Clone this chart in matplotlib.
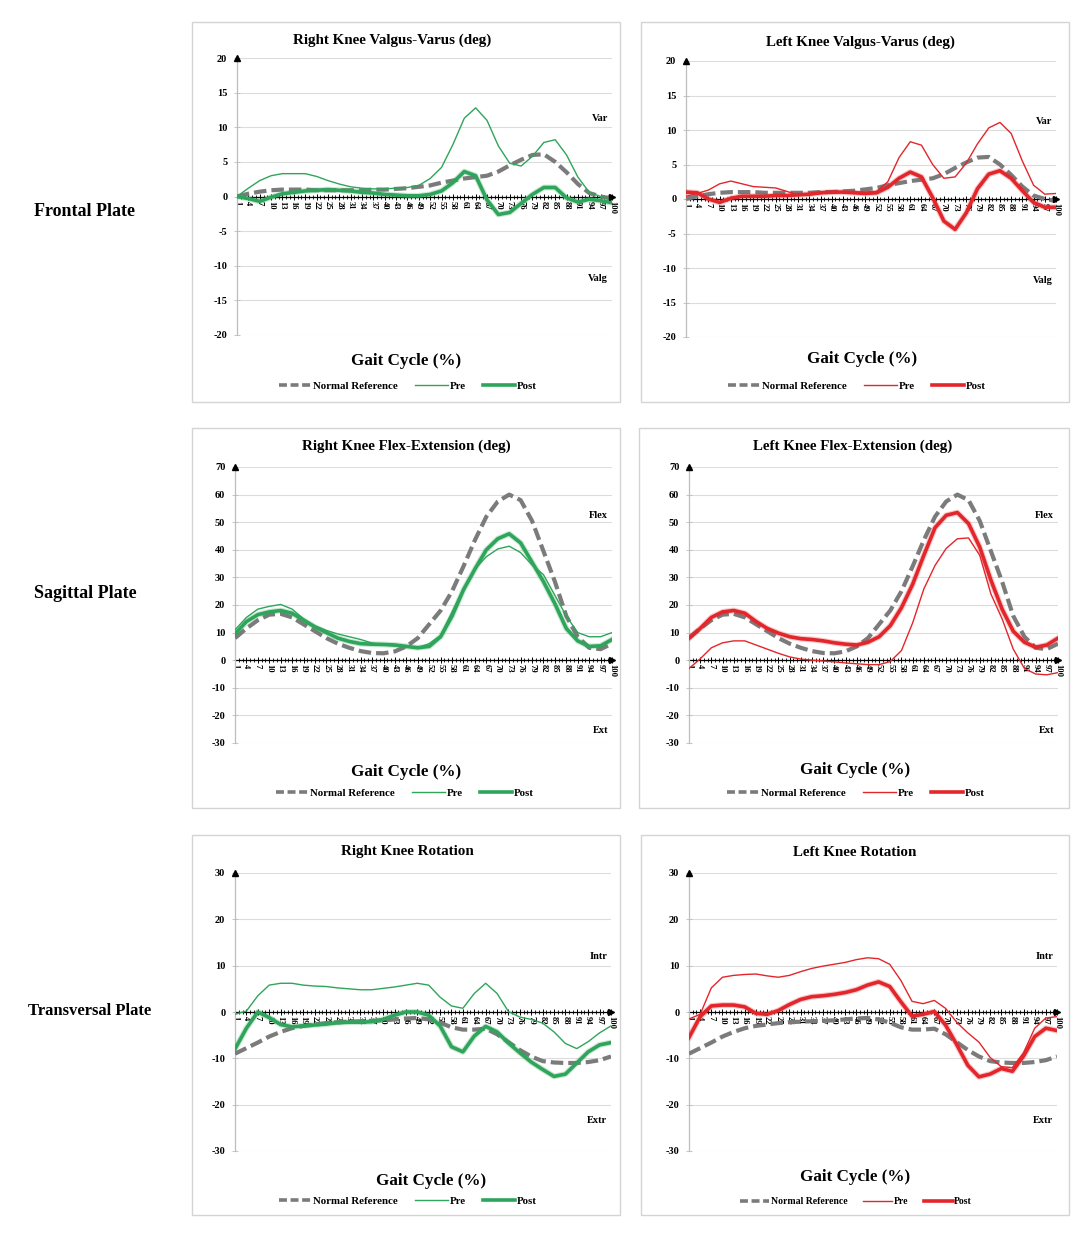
import matplotlib
matplotlib.use("Agg")
import matplotlib.pyplot as plt
import matplotlib.patheffects as pe
from matplotlib.patches import Rectangle
from matplotlib.lines import Line2D

plt.rcParams['font.family'] = ['Liberation Serif', 'DejaVu Serif']
plt.rcParams['font.weight'] = 'bold'

# ---------------- data ----------------
gait_x = [1, 4, 7, 10, 13, 16, 19, 22, 25, 28, 31, 34, 37, 40, 43, 46, 49,
          52, 55, 58, 61, 64, 67, 70, 73, 76, 79, 82, 85, 88, 91, 94, 97, 100]
x_tick_labels = [str(v) for v in gait_x]

# Frontal (valgus-varus)
nr_frontal = [0.0, 0.4, 0.7, 0.9, 1.0, 1.0, 1.0, 0.9, 0.9, 0.9, 0.9, 0.9, 1.0, 1.0, 1.1, 1.2, 1.4,
              1.6, 2.0, 2.3, 2.6, 2.8, 3.0, 3.6, 4.5, 5.3, 6.0, 6.1, 5.0, 3.5, 1.8, 0.5, 0.0, -0.3]
r_pre_frontal = [0.0, 1.2, 2.3, 3.0, 3.3, 3.3, 3.3, 2.9, 2.3, 1.8, 1.4, 1.2, 1.1, 1.1, 1.2, 1.3, 1.6,
                 2.6, 4.2, 7.5, 11.3, 12.8, 11.0, 7.3, 4.8, 4.4, 5.8, 7.8, 8.2, 6.0, 2.8, 0.6, 0.0, -0.3]
r_post_frontal = [0.0, -0.3, -0.7, -0.1, 0.4, 0.6, 0.8, 0.9, 1.0, 0.9, 0.8, 0.6, 0.5, 0.3, 0.2, 0.1, 0.1,
                  0.3, 0.8, 2.0, 3.6, 3.0, -0.5, -2.6, -2.3, -1.0, 0.3, 1.3, 1.3, -0.2, -0.8, -0.4, -0.6, -0.9]
l_pre_frontal = [0.4, 0.8, 1.3, 2.2, 2.6, 2.2, 1.8, 1.7, 1.6, 1.1, 0.6, 0.6, 0.8, 0.9, 1.0, 1.0, 1.0,
                 1.1, 2.5, 6.0, 8.3, 7.8, 5.0, 3.0, 3.2, 5.2, 8.0, 10.3, 11.1, 9.5, 5.5, 2.0, 0.7, 0.8]
l_post_frontal = [1.0, 0.9, 0.0, -0.5, 0.1, 0.4, 0.4, 0.4, 0.5, 0.5, 0.6, 0.7, 0.9, 1.0, 1.0, 0.9, 0.8,
                  0.9, 1.7, 3.0, 3.9, 3.2, 0.2, -3.2, -4.4, -2.0, 1.5, 3.6, 4.1, 3.0, 1.2, -0.5, -1.2, -1.2]

# Sagittal (flex-extension)
nr_sagittal = [8.0, 11.5, 14.5, 16.5, 16.8, 15.5, 13.0, 10.5, 8.0, 6.0, 4.5, 3.3, 2.6, 2.5, 3.2, 5.0, 8.0,
               13.0, 18.0, 25.0, 34.0, 43.5, 52.0, 57.5, 60.0, 58.0, 50.5, 39.5, 28.5, 16.0, 8.5, 4.5, 4.0, 6.0]
r_pre_sagittal = [11.0, 15.5, 18.5, 19.5, 20.2, 18.5, 15.0, 12.5, 10.8, 9.5, 8.5, 7.5, 6.2, 5.5, 5.2, 4.8, 4.5,
                  6.0, 9.0, 17.5, 26.0, 33.0, 37.5, 40.3, 41.3, 39.0, 34.5, 31.0, 23.5, 16.0, 10.0, 8.5, 8.5, 10.0]
r_post_sagittal = [9.5, 14.0, 16.5, 17.5, 18.0, 17.0, 14.5, 12.0, 10.0, 8.0, 6.8, 6.0, 5.8, 5.7, 5.5, 5.0, 4.5,
                   5.0, 8.5, 16.0, 25.5, 33.0, 40.0, 44.0, 45.8, 42.5, 35.5, 28.5, 20.5, 11.5, 7.0, 5.0, 5.2, 7.5]
l_pre_sagittal = [-3.0, 0.5, 4.5, 6.3, 7.0, 7.0, 5.5, 4.0, 2.5, 1.2, 0.4, 0.0, -0.3, -0.6, -1.0, -1.3, -1.6,
                  -1.6, -0.5, 3.5, 13.5, 25.8, 34.3, 40.5, 44.0, 44.3, 38.0, 24.0, 15.0, 4.0, -3.0, -5.0, -5.3, -4.5]
l_post_sagittal = [8.0, 11.5, 15.5, 17.5, 18.0, 17.0, 14.0, 11.5, 9.8, 8.5, 7.8, 7.5, 7.0, 6.3, 5.8, 5.5, 6.5,
                   8.5, 12.5, 19.0, 27.5, 38.0, 48.0, 52.5, 53.5, 49.5, 41.0, 29.0, 18.5, 10.5, 6.5, 4.7, 5.5, 8.0]

# Transversal (rotation)
nr_transversal = [-9.0, -7.8, -6.6, -5.3, -4.3, -3.5, -3.0, -2.7, -2.4, -2.2, -2.1, -2.0, -1.9, -1.8, -1.6, -1.4, -1.3,
                  -1.6, -2.3, -3.3, -3.8, -3.8, -3.6, -4.8, -6.5, -8.2, -9.6, -10.6, -10.9, -11.0, -11.0, -10.8, -10.4, -9.6]
r_pre_transversal = [-0.5, 0.2, 3.5, 5.8, 6.2, 6.2, 5.8, 5.6, 5.5, 5.2, 5.0, 4.8, 4.8, 5.1, 5.4, 5.8, 6.2,
                     5.8, 3.2, 1.3, 0.8, 4.0, 6.2, 4.0, 0.1, -1.1, -1.6, -2.4, -4.3, -6.8, -7.9, -6.4, -4.5, -3.0]
r_post_transversal = [-8.0, -3.5, 0.0, -1.2, -2.7, -3.2, -3.0, -2.8, -2.6, -2.3, -2.2, -2.2, -2.1, -1.6, -0.7, 0.0, 0.0,
                      -0.7, -3.0, -7.5, -8.6, -5.2, -3.1, -4.3, -6.7, -8.8, -10.8, -12.4, -13.9, -13.4, -11.0, -8.6, -7.1, -6.6]
l_pre_transversal = [-1.5, -0.5, 5.2, 7.5, 7.9, 8.1, 8.2, 7.8, 7.5, 7.9, 8.7, 9.4, 9.9, 10.3, 10.7, 11.3, 11.7,
                     11.5, 10.3, 6.8, 2.3, 1.8, 2.5, 0.8, -2.2, -4.5, -6.5, -9.8, -11.8, -12.0, -8.8, -3.5, -1.3, -1.0]
l_post_transversal = [-5.5, -1.0, 1.3, 1.5, 1.5, 1.1, -0.3, -0.5, 0.3, 1.6, 2.7, 3.3, 3.5, 3.8, 4.2, 4.8, 5.8,
                      6.5, 5.5, 2.2, -0.9, -0.5, 0.1, -2.8, -7.0, -11.5, -14.0, -13.4, -12.2, -12.8, -9.5, -5.3, -3.5, -4.0]

titles = ["Right Knee Valgus-Varus (deg)", "Left Knee Valgus-Varus (deg)",
          "Right Knee Flex-Extension (deg)", "Left Knee Flex-Extension (deg)",
          "Right Knee Rotation", "Left Knee Rotation"]
row_labels = ["Frontal Plate", "Sagittal Plate", "Transversal Plate"]
legend_labels = ["Normal Reference", "Pre", "Post"]
x_title = "Gait Cycle (%)"
pos_labels = ["Var", "Flex", "Intr"]
neg_labels = ["Valg", "Ext", "Extr"]
y_ranges = [(-20, 20, 5), (-30, 70, 10), (-30, 30, 10)]
pos_label_y = [11.2, 52.5, 12.0]
neg_label_y = [-11.8, -25.5, -23.5]

GREEN = "#2ea55a"
RED = "#e3262b"
GRAY = "#7b7b7b"

# ---------------- layout (pixels) ----------------
W, H = 1086, 1238
fig = plt.figure(figsize=(W / 100, H / 100), dpi=100)
fig.patch.set_facecolor("white")

def fx(px):
    return px / W

def fy(py):
    return 1 - py / H

frames = [(192, 620, 22, 402), (641, 1069, 22, 402),
          (192, 620, 428, 808), (639, 1069, 428, 808),
          (192, 620, 835, 1215), (641, 1069, 835, 1215)]
areas = [(237, 612, 58, 335), (686, 1056, 61, 337),
         (235, 612, 467, 743), (689, 1058, 467, 743),
         (235, 611, 873, 1151), (689, 1057, 873, 1151)]
title_pos = [(392, 40), (860, 42), (406, 446), (853, 446), (407, 852), (855, 852)]
xtitle_pos = [(406, 361), (862, 359), (406, 772), (855, 770), (431, 1181), (855, 1177)]
legend_pos = [(408, 386), (857, 386), (405, 793), (856, 793), (408, 1201), (856, 1202)]
row_label_pos = [(84, 212), (85, 593), (90, 1011)]
row_label_size = [13.0, 13.0, 12.0]

series = [
    (nr_frontal, r_pre_frontal, r_post_frontal, GREEN),
    (nr_frontal, l_pre_frontal, l_post_frontal, RED),
    (nr_sagittal, r_pre_sagittal, r_post_sagittal, GREEN),
    (nr_sagittal, l_pre_sagittal, l_post_sagittal, RED),
    (nr_transversal, r_pre_transversal, r_post_transversal, GREEN),
    (nr_transversal, l_pre_transversal, l_post_transversal, RED),
]

for (x0, x1, y0, y1) in frames:
    fig.patches.append(Rectangle((fx(x0), fy(y1)), fx(x1 - x0), (y1 - y0) / H,
                                 transform=fig.transFigure, fill=False,
                                 edgecolor="#d4d4d4", linewidth=1.0))

for i in range(6):
    row = i // 2
    lo, hi, step = y_ranges[row]
    l, r, t, b = areas[i]
    ax = fig.add_axes([fx(l), fy(b), fx(r - l), (b - t) / H])
    ax.set_facecolor("none")
    nr, pre, post, col = series[i]

    # spines first (set_position resets tick properties)
    for s in ("top", "right"):
        ax.spines[s].set_visible(False)
    ax.spines["bottom"].set_position(("data", 0))
    ax.spines["bottom"].set_linewidth(0.9)
    ax.spines["bottom"].set_zorder(2)
    ax.spines["left"].set_color("#bdbdbd")
    ax.spines["left"].set_linewidth(0.9)

    ax.plot(gait_x, nr, color=GRAY, lw=3.0, linestyle=(0, (3.0, 1.2)),
            solid_capstyle="butt", dash_capstyle="butt", zorder=3)
    ax.plot(gait_x, pre, color=col, lw=1.0, zorder=4)
    ax.plot(gait_x, post, color=col, lw=2.6, zorder=5,
            path_effects=[pe.Stroke(linewidth=4.2, foreground=col, alpha=0.25), pe.Normal()])

    ax.set_xlim(1, 100)
    ax.set_ylim(lo, hi)
    yt = list(range(lo, hi + 1, step))
    ax.set_yticks(yt)
    ax.set_yticklabels([str(v) for v in yt], fontsize=7.5, fontweight="bold")
    for v in yt:
        if v != 0:
            ax.axhline(v, color="#dcdcdc", lw=0.8, zorder=1)

    ax.set_xticks(gait_x)
    ax.set_xticklabels(x_tick_labels, rotation=-90, fontsize=6.2, fontweight="bold")
    ax.set_xticks(range(1, 101), minor=True)
    ax.tick_params(axis="x", which="major", direction="inout", length=4, width=0.7, pad=1)
    ax.tick_params(axis="x", which="minor", direction="inout", length=3, width=0.6)
    ax.tick_params(axis="y", direction="inout", length=4, width=0.6, colors="#bdbdbd",
                   labelcolor="black", pad=5)

    ax.plot(1, hi, marker="^", color="black", markersize=4.5, clip_on=False, zorder=6)
    ax.plot(100, 0, marker=">", color="black", markersize=4.5, clip_on=False, zorder=6)

    ax.text(99, pos_label_y[row], pos_labels[row], ha="right", va="center",
            fontsize=7.5, fontweight="bold")
    ax.text(99, neg_label_y[row], neg_labels[row], ha="right", va="center",
            fontsize=7.5, fontweight="bold")

    tx, ty = title_pos[i]
    fig.text(fx(tx), fy(ty), titles[i], ha="center", va="center", fontsize=10.8, fontweight="bold")
    gx, gy = xtitle_pos[i]
    fig.text(fx(gx), fy(gy), x_title, ha="center", va="center", fontsize=12.3, fontweight="bold")

    handles = [Line2D([], [], color=GRAY, lw=2.6, linestyle=(0, (2.2, 1.0))),
               Line2D([], [], color=col, lw=1.0),
               Line2D([], [], color=col, lw=2.6)]
    lx, ly = legend_pos[i]
    ax.legend(handles, legend_labels, loc="center", bbox_to_anchor=(fx(lx), fy(ly)),
              bbox_transform=fig.transFigure, ncol=3, frameon=False,
              prop={"size": 7.8 if i != 5 else 7.0, "weight": "bold"},
              handlelength=3.0, handletextpad=0.15, columnspacing=1.6)

for j, lab in enumerate(row_labels):
    x, y = row_label_pos[j]
    fig.text(fx(x), fy(y), lab, ha="center", va="center", fontsize=row_label_size[j],
             fontweight="bold")

fig.savefig("out.png", dpi=100)
